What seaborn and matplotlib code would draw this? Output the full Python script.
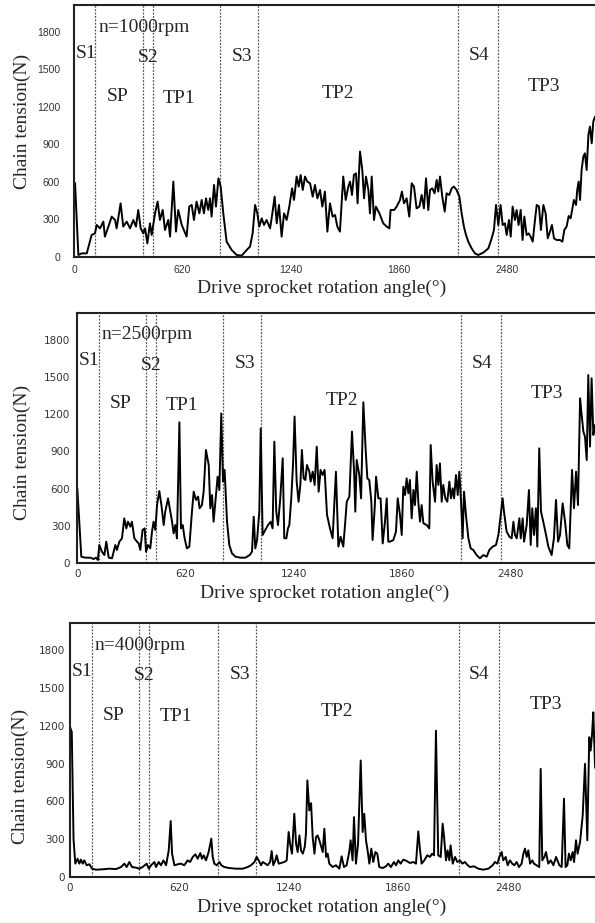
import matplotlib
matplotlib.use("Agg")
import matplotlib.pyplot as plt
import seaborn as sns

sns.set_style("white")
plt.rcParams['font.family'] = ['Liberation Serif', 'DejaVu Serif']

# ---- data ----
speeds = ["n=1000rpm", "n=2500rpm", "n=4000rpm"]

angle_1000 = [0, 6, 25, 44, 73, 101, 120, 130, 149, 168, 177, 197, 216, 235, 244, 267, 282, 302, 321, 340,
              355, 368, 382, 397, 407, 420, 435, 445, 464, 479, 492, 508, 521, 540, 550, 569, 584, 597, 617, 645,
              660, 674, 687, 702, 718, 731, 744, 756, 769, 779, 788, 802, 813, 827, 840, 855, 874, 903, 932, 960,
              989, 1008, 1023, 1037, 1050, 1061, 1075, 1088, 1103, 1123, 1136, 1149, 1161, 1174, 1189, 1203, 1218,
              1233, 1249, 1260, 1275, 1287, 1298, 1310, 1323, 1336, 1352, 1367, 1380, 1394, 1409, 1422, 1437, 1451,
              1466, 1481, 1495, 1508, 1523, 1542, 1556, 1571, 1581, 1592, 1603, 1615, 1624, 1638, 1651, 1661, 1672,
              1686, 1695, 1705, 1718, 1729, 1749, 1771, 1791, 1806, 1813, 1833, 1848, 1867, 1878, 1890, 1905, 1920,
              1934, 1947, 1962, 1978, 1991, 2004, 2016, 2029, 2039, 2052, 2065, 2077, 2086, 2096, 2109, 2123, 2134,
              2149, 2163, 2176, 2191, 2207, 2220, 2233, 2245, 2258, 2277, 2296, 2315, 2344, 2373, 2392, 2405, 2417,
              2430, 2443, 2455, 2468, 2478, 2491, 2501, 2512, 2525, 2535, 2546, 2558, 2569, 2579, 2592, 2604, 2615,
              2627, 2640, 2650, 2663, 2674, 2688, 2701, 2713, 2726, 2737, 2749, 2764, 2783, 2797, 2808, 2821, 2833,
              2844, 2856, 2863, 2875, 2882, 2890, 2898, 2907, 2917, 2926, 2936, 2946, 2955, 2965, 2974, 2984, 3000]
tension_1000 = [600, 590, 16, 29, 29, 176, 189, 256, 229, 283, 163, 243, 323, 296, 229, 429, 243, 283, 229, 296,
                243, 376, 229, 189, 229, 109, 269, 176, 349, 443, 296, 376, 216, 296, 163, 603, 203, 376, 256, 163,
                403, 416, 296, 443, 349, 456, 349, 469, 376, 469, 323, 576, 403, 629, 563, 349, 123, 56, 16, 11,
                56, 83, 189, 416, 349, 243, 309, 256, 296, 229, 349, 483, 269, 416, 163, 349, 296,
                403, 549, 456, 643, 563, 656, 536, 643, 603, 589, 483, 576, 469, 536, 403, 523, 203,
                429, 323, 336, 243, 203, 643, 456, 563, 603, 496, 656, 669, 429, 843, 696, 469, 643,
                536, 349, 643, 296, 403, 349, 269, 243, 229, 376, 376, 403, 456, 523, 429, 469, 323,
                589, 563, 389, 403, 496, 389, 629, 376, 536, 549, 509, 616, 523, 643, 483, 363, 509,
                496, 549, 563, 536, 483, 349, 243, 176, 123, 69, 29, 16, 35, 69, 149, 216, 416,
                256, 416, 256, 269, 176, 296, 163, 403, 296, 376, 256, 376, 136, 323, 176, 189, 163,
                123, 296, 416, 403, 216, 416, 349, 149, 203, 256, 149, 136, 136, 123, 216, 243, 328,
                309, 403, 456, 416, 536, 603, 456, 696, 803, 829, 696, 976, 1043, 909, 1083, 1123, 1100]

angle_2500 = [0, 23, 46, 75, 94, 107, 118, 126, 141, 155, 166, 180, 199, 218, 227, 241, 256, 269, 281, 290,
              304, 313, 327, 342, 352, 361, 374, 386, 394, 405, 418, 428, 437, 447, 457, 470, 482, 495, 504, 520,
              533, 543, 552, 562, 571, 585, 594, 604, 615, 628, 642, 657, 667, 680, 692, 701, 714, 724, 737, 753,
              762, 772, 781, 791, 804, 814, 825, 835, 844, 858, 871, 886, 906, 934, 963, 988, 1001, 1011, 1020,
              1030, 1043, 1051, 1062, 1077, 1093, 1108, 1119, 1129, 1140, 1150, 1163, 1177, 1186, 1198, 1207, 1215,
              1226, 1236, 1245, 1257, 1268, 1278, 1287, 1297, 1307, 1316, 1330, 1337, 1349, 1360, 1372, 1383, 1394,
              1406, 1417, 1431, 1448, 1463, 1482, 1496, 1509, 1524, 1534, 1544, 1559, 1574, 1586, 1593, 1601, 1616,
              1626, 1639, 1652, 1662, 1673, 1685, 1692, 1704, 1712, 1725, 1738, 1750, 1763, 1773, 1782, 1792, 1811,
              1826, 1836, 1849, 1859, 1868, 1878, 1887, 1897, 1906, 1916, 1926, 1935, 1945, 1954, 1964, 1973, 1983,
              2002, 2017, 2025, 2036, 2050, 2059, 2069, 2078, 2088, 2097, 2109, 2120, 2132, 2141, 2151, 2159, 2170,
              2180, 2189, 2199, 2208, 2216, 2227, 2241, 2254, 2269, 2288, 2307, 2327, 2346, 2361, 2380, 2399, 2413,
              2426, 2437, 2445, 2460, 2476, 2489, 2499, 2508, 2518, 2533, 2541, 2552, 2560, 2575, 2588, 2598, 2607,
              2617, 2628, 2636, 2647, 2657, 2670, 2686, 2699, 2718, 2731, 2743, 2755, 2766, 2781, 2795, 2808, 2819,
              2835, 2846, 2858, 2869, 2881, 2890, 2900, 2909, 2919, 2928, 2938, 2947, 2957, 2966, 2990]
tension_2500 = [602, 51, 43, 43, 32, 43, 24, 145, 91, 64, 172, 43, 38, 145, 105, 172, 199, 360, 279, 333,
                293, 333, 199, 172, 158, 105, 266, 279, 91, 145, 118, 253, 333, 266, 467, 580, 467, 306, 414, 521,
                414, 333, 239, 306, 199, 1134, 279, 306, 199, 118, 132, 414, 575, 508, 535, 441, 467, 575, 911, 790,
                441, 548, 333, 494, 696, 588, 1206, 656, 750, 333, 145, 78, 51, 43, 43, 64, 91, 373, 118,
                185, 414, 1085, 226, 266, 306, 333, 279, 978, 414, 306, 521, 844, 199, 199, 279, 306,
                521, 790, 1180, 656, 494, 629, 911, 682, 669, 790, 736, 656, 736, 629, 938, 575, 750,
                709, 750, 387, 279, 199, 736, 132, 212, 132, 306, 494, 535, 1059, 736, 414, 830, 709,
                521, 1295, 924, 682, 669, 494, 185, 441, 696, 521, 521, 158, 333, 521, 172, 172, 185,
                253, 521, 387, 226, 615, 548, 682, 562, 669, 360, 588, 467, 736, 494, 333, 467, 320,
                306, 279, 951, 656, 494, 790, 629, 803, 494, 629, 521, 494, 656, 521, 602, 521, 709,
                548, 736, 494, 199, 575, 387, 199, 118, 105, 64, 38, 64, 51, 105, 132, 145, 226,
                387, 521, 414, 253, 212, 199, 333, 226, 199, 360, 199, 360, 172, 306, 588, 145, 441,
                226, 441, 132, 924, 414, 333, 226, 132, 64, 199, 508, 172, 226, 481, 333, 145, 118,
                750, 441, 736, 467, 1327, 1193, 1059, 1018, 830, 1515, 938, 1489, 1032, 1112, 1000]

angle_4000 = [0, 10, 20, 30, 43, 53, 62, 72, 81, 94, 110, 125, 147, 185, 223, 261, 289, 308, 321, 336,
              351, 374, 393, 411, 434, 446, 459, 478, 487, 502, 515, 529, 544, 559, 570, 578, 591, 610, 628, 647,
              666, 680, 695, 710, 723, 738, 747, 757, 770, 785, 800, 808, 817, 831, 846, 857, 874, 902, 940, 978,
              1006, 1025, 1044, 1057, 1068, 1082, 1091, 1106, 1119, 1133, 1142, 1151, 1163, 1170, 1182, 1195, 1214,
              1227, 1238, 1246, 1257, 1270, 1280, 1289, 1299, 1308, 1318, 1329, 1336, 1344, 1355, 1365, 1374, 1384,
              1393, 1402, 1412, 1423, 1431, 1440, 1450, 1459, 1468, 1487, 1506, 1525, 1538, 1551, 1566, 1581, 1589,
              1600, 1608, 1619, 1631, 1646, 1657, 1666, 1676, 1685, 1695, 1706, 1717, 1729, 1740, 1751, 1770, 1789,
              1802, 1817, 1834, 1846, 1859, 1872, 1887, 1906, 1925, 1944, 1959, 1972, 1982, 1991, 2006, 2023, 2038,
              2050, 2061, 2072, 2085, 2099, 2110, 2118, 2129, 2138, 2148, 2155, 2167, 2180, 2193, 2208, 2221, 2236,
              2252, 2265, 2287, 2312, 2340, 2369, 2393, 2406, 2420, 2431, 2444, 2453, 2467, 2478, 2491, 2504, 2516,
              2529, 2542, 2557, 2567, 2576, 2586, 2595, 2605, 2618, 2627, 2642, 2657, 2665, 2674, 2686, 2695, 2708,
              2722, 2737, 2752, 2771, 2784, 2797, 2806, 2816, 2825, 2835, 2846, 2854, 2865, 2874, 2888, 2903, 2916,
              2929, 2940, 2948, 2956, 2963, 2973, 2990]
tension_4000 = [1190, 1150, 300, 106, 145, 106, 138, 106, 132, 93, 101, 66, 58, 61, 66, 63, 79, 106, 79, 119,
                79, 74, 66, 79, 106, 66, 93, 119, 79, 119, 93, 132, 93, 211, 444, 185, 93, 101, 106, 93,
                132, 119, 159, 180, 145, 190, 145, 172, 132, 198, 304, 159, 106, 93, 119, 93, 79, 71, 66, 66,
                79, 93, 119, 159, 132, 93, 119, 106, 93, 119, 206, 93, 132, 172, 106, 111, 119,
                132, 357, 264, 185, 502, 264, 198, 330, 211, 185, 238, 343, 766, 528, 586, 317, 185,
                317, 330, 291, 238, 198, 383, 159, 185, 106, 79, 93, 66, 164, 79, 93, 198, 291,
                132, 475, 106, 264, 924, 357, 502, 291, 211, 106, 225, 119, 198, 185, 79, 71, 85,
                106, 79, 119, 93, 132, 106, 138, 127, 111, 119, 106, 362, 211, 106, 132, 172, 159,
                185, 172, 1161, 172, 159, 423, 317, 132, 211, 132, 251, 106, 159, 119, 132, 106, 119,
                93, 79, 85, 66, 58, 66, 93, 119, 106, 159, 198, 132, 159, 93, 132, 106, 93,
                119, 79, 106, 185, 225, 159, 211, 106, 132, 106, 93, 79, 858, 132, 159, 198, 106,
                132, 93, 159, 93, 79, 621, 79, 93, 185, 132, 198, 119, 291, 185, 278, 489, 898,
                291, 1109, 1003, 1135, 1307, 871, 820]

angles = [angle_1000, angle_2500, angle_4000]
tensions = [tension_1000, tension_2500, tension_4000]

x_ticks = [0, 620, 1240, 1860, 2480]
y_ticks = [0, 300, 600, 900, 1200, 1500, 1800]
boundaries = [122, 393, 450, 836, 1055, 2200, 2430]
region_names = ["S1", "S2", "S3", "SP", "TP1", "TP2", "S4", "TP3"]
region_x = [70, 422, 961, 249, 602, 1514, 2318, 2693]
region_y = [1630, 1595, 1605, 1284, 1270, 1310, 1610, 1365]

# ---- layout (pixel boxes of each panel, the figure crops the right side) ----
W, H = 595, 923
panels = [
    dict(box=(74, 5, 541.3, 252), tickfont='Liberation Sans', ypad=10, xpad=5.5,
         xlab=(0.458, -0.123), ylab=(-0.096, 0.536)),
    dict(box=(77.3, 313, 541, 250), tickfont='DejaVu Sans', ypad=5, xpad=4.3,
         xlab=(0.458, -0.120), ylab=(-0.101, 0.444)),
    dict(box=(70, 623, 547.5, 254), tickfont='DejaVu Sans', ypad=3.6, xpad=4.3,
         xlab=(0.460, -0.118), ylab=(-0.091, 0.394)),
]

fig = plt.figure(figsize=(W / 100, H / 100), dpi=100)

for i, p in enumerate(panels):
    l, t, w, h = p['box']
    ax = fig.add_axes([l / W, 1 - (t + h) / H, w / W, h / H])

    sns.lineplot(x=angles[i], y=tensions[i], ax=ax, color='black', lw=1.4,
                 errorbar=None, sort=False)

    for b in boundaries:
        ax.axvline(b, color='#555555', lw=0.9, ls=(0, (1.5, 1.2)), zorder=1)

    ax.set_xlim(0, 3100)
    ax.set_ylim(0, 2015)
    ax.set_xticks(x_ticks)
    ax.set_yticks(y_ticks)
    ax.tick_params(axis='both', length=0, labelsize=7.5, labelcolor='#333333')
    ax.tick_params(axis='y', pad=p['ypad'])
    ax.tick_params(axis='x', pad=p['xpad'])
    for lab in ax.get_xticklabels() + ax.get_yticklabels():
        lab.set_fontfamily(p['tickfont'])

    for s in ax.spines.values():
        s.set_color('#222222')
        s.set_linewidth(1.5)

    ax.set_xlabel("Drive sprocket rotation angle(°)", fontsize=14)
    ax.xaxis.label.set_va('center')
    ax.xaxis.set_label_coords(*p['xlab'])
    ax.set_ylabel("Chain tension(N)", fontsize=14)
    ax.yaxis.label.set_va('center')
    ax.yaxis.set_label_coords(*p['ylab'])

    ax.text(140, 1838, speeds[i], fontsize=14, ha='left', va='center')
    for name, rx, ry in zip(region_names, region_x, region_y):
        ax.text(rx, ry, name, fontsize=14, ha='center', va='center')

fig.savefig("out.png", dpi=100)
